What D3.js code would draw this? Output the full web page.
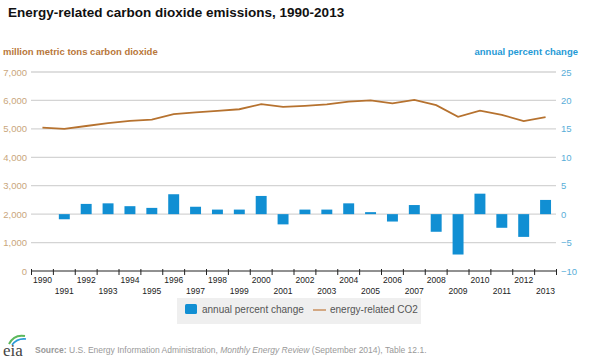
<!DOCTYPE html>
<html><head><meta charset="utf-8">
<script src="https://cdn.jsdelivr.net/npm/d3@7"></script>
<style>body{margin:0;background:#fff}svg{display:block;font-family:"Liberation Sans",Arial,sans-serif}</style>
</head><body><svg id="c" width="600" height="360"></svg>
<script>
const years = [1990,1991,1992,1993,1994,1995,1996,1997,1998,1999,2000,2001,2002,2003,2004,2005,2006,2007,2008,2009,2010,2011,2012,2013];
const co2 = [5040,4996,5100,5200,5280,5325,5520,5580,5630,5690,5870,5770,5810,5860,5960,6000,5900,6020,5835,5425,5640,5495,5272,5410];
const pctChange = [null,-0.9,1.8,1.9,1.4,1.1,3.5,1.3,0.8,0.8,3.2,-1.8,0.8,0.8,1.9,0.35,-1.3,1.6,-3.1,-7.1,3.6,-2.4,-4.0,2.5];
const leftTicks = [0,1000,2000,3000,4000,5000,6000,7000];
const rightTicks = [-10,-5,0,5,10,15,20,25];

const svg = d3.select("#c");
const x = d3.scaleBand().domain(years).range([31.5,556.5]).paddingInner(0.5).paddingOuter(0.25);
const xb = d3.scaleBand().domain(years).range([31.5,556.5]);
const yL = d3.scaleLinear().domain([0,7000]).range([271,72]);
const yR = d3.scaleLinear().domain([-10,25]).range([271,72]);

// title
svg.append("text").attr("x",8).attr("y",17).attr("font-size",13.5).attr("font-weight","bold").attr("fill","#111")
  .text("Energy-related carbon dioxide emissions, 1990-2013");
svg.append("text").attr("x",3).attr("y",55).attr("font-size",9.5).attr("font-weight","bold").attr("fill","#b8773a")
  .text("million metric tons carbon dioxide");
svg.append("text").attr("x",578).attr("y",55).attr("text-anchor","end").attr("font-size",9.5).attr("font-weight","bold").attr("fill","#1f9ad6")
  .text("annual percent change");

// gridlines
svg.append("g").selectAll("line").data(leftTicks.filter(d=>d>0)).join("line")
  .attr("x1",31).attr("x2",556).attr("y1",d=>yL(d)).attr("y2",d=>yL(d))
  .attr("stroke","#d4d4d4").attr("stroke-width",1.3);

// left axis labels
const gl = svg.append("g").attr("transform","translate(27,0)")
  .call(d3.axisLeft(yL).tickValues(leftTicks).tickSize(0).tickPadding(0).tickFormat(d3.format(",")));
gl.select(".domain").remove();
gl.selectAll("text").attr("fill","#c9a67c").attr("font-size",9.5).attr("font-family","Liberation Sans, Arial, sans-serif");

// right axis labels
const gr = svg.append("g").attr("transform","translate(561,0)")
  .call(d3.axisRight(yR).tickValues(rightTicks).tickSize(0).tickPadding(0));
gr.select(".domain").remove();
gr.selectAll("text").attr("fill","#5aaed8").attr("font-size",9.5).attr("font-family","Liberation Sans, Arial, sans-serif");

// bars
svg.append("g").selectAll("rect").data(years.map((y,i)=>({y,v:pctChange[i]})).filter(d=>d.v!==null)).join("rect")
  .attr("x",d=>x(d.y)).attr("width",x.bandwidth())
  .attr("y",d=>Math.min(yR(0),yR(d.v))).attr("height",d=>Math.abs(yR(d.v)-yR(0)))
  .attr("fill","#118fd3");

// line
const line = d3.line().x((d,i)=>xb(years[i])+xb.bandwidth()/2).y(d=>yL(d));
svg.append("path").datum(co2).attr("d",line).attr("fill","none").attr("stroke","#b6722f").attr("stroke-width",1.8);

// x axis
const gx = svg.append("g").attr("transform","translate(0,271)");
gx.append("line").attr("x1",31.5).attr("x2",556.5).attr("stroke","#222").attr("stroke-width",1);
const bounds = years.map(y=>xb(y)).concat([556.5]);
gx.selectAll("line.t").data(bounds).join("line").attr("class","t")
  .attr("x1",d=>d).attr("x2",d=>d).attr("y1",-2).attr("y2",4).attr("stroke","#222");
gx.selectAll("text").data(years).join("text")
  .attr("x",d=>xb(d)+xb.bandwidth()/2).attr("y",(d,i)=>i%2===0?12:23)
  .attr("text-anchor","middle").attr("font-size",8.5).attr("fill","#222").text(d=>d);

// legend
const lg = svg.append("g");
lg.append("rect").attr("x",177).attr("y",298).attr("width",244).attr("height",26).attr("fill","#efefef");
lg.append("rect").attr("x",185).attr("y",304).attr("width",12).attr("height",10).attr("rx",1.5).attr("fill","#118fd3");
lg.append("text").attr("x",202).attr("y",313).attr("font-size",10).attr("fill","#555").text("annual percent change");
lg.append("line").attr("x1",313).attr("x2",326).attr("y1",310).attr("y2",310).attr("stroke","#d3a883").attr("stroke-width",2);
lg.append("text").attr("x",330).attr("y",313).attr("font-size",10).attr("fill","#555").text("energy-related CO2");

// eia logo
svg.append("path").attr("d","M9,344 Q14,334 25,336").attr("fill","none").attr("stroke","#5cb85c").attr("stroke-width",2);
svg.append("path").attr("d","M12,345 Q17,338 26,339").attr("fill","none").attr("stroke","#2a9bd7").attr("stroke-width",1.5);
svg.append("text").attr("x",3).attr("y",356).attr("font-size",17).attr("font-family","Liberation Serif, DejaVu Serif, serif").attr("fill","#444").text("eia");

// source
const src = svg.append("text").attr("x",35).attr("y",353).attr("font-size",8.5).attr("fill","#999");
src.append("tspan").attr("font-weight","bold").text("Source:");
src.append("tspan").text(" U.S. Energy Information Administration, ");
src.append("tspan").attr("font-style","italic").text("Monthly Energy Review");
src.append("tspan").text(" (September 2014), Table 12.1.");
</script></body></html>
